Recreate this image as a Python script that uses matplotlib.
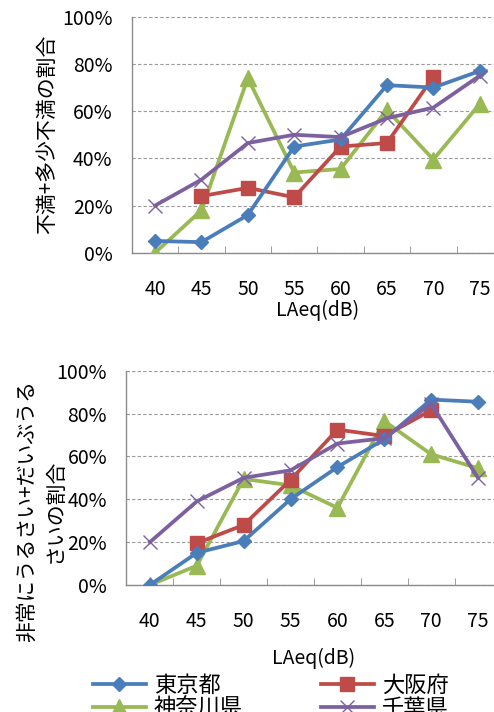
import matplotlib.pyplot as plt
from matplotlib.ticker import PercentFormatter

plt.rcParams['font.family'] = ['Noto Sans CJK JP', 'DejaVu Sans']

levels = ['40', '45', '50', '55', '60', '65', '70', '75']
regions = ['東京都', '大阪府', '神奈川県', '千葉県']

# top panel: 不満+多少不満の割合 (%)
top_tokyo = [5, 4.5, 16, 45, 48, 71, 70, 77]
top_osaka = [None, 24, 27.5, 23.5, 45, 46.5, 74.5, None]
top_kanagawa = [0, 18, 74, 34, 35.5, 60.5, 39.5, 63]
top_chiba = [20, 31, 46.5, 50, 49, 57, 61.5, 75]

# bottom panel: 非常にうるさい+だいぶうるさいの割合 (%)
bot_tokyo = [0, 15, 20.5, 40, 55, 68, 86.5, 85.5]
bot_osaka = [None, 19.5, 28, 49, 72.5, 69.5, 81.5, None]
bot_kanagawa = [0, 9, 49.5, 46.5, 36, 76.5, 61, 54.5]
bot_chiba = [20, 39, 50, 53.5, 66, 68.5, 84.5, 50]

styles = {
    '東京都': dict(color='#4A7EBB', marker='D', markersize=7, zorder=5),
    '大阪府': dict(color='#BE4B48', marker='s', markersize=10, zorder=4),
    '神奈川県': dict(color='#98B954', marker='^', markersize=11, zorder=3),
    '千葉県': dict(color='#7D60A0', marker='x', markersize=10, markeredgewidth=1.0, zorder=6),
}


def to_float(vals):
    return [float('nan') if v is None else v for v in vals]


def draw_panel(ax, series, ylabel, label_x, label_y, xlabel_pad):
    x = list(range(len(levels)))
    lines = {}
    for name, vals in zip(regions, series):
        st = styles[name]
        ln, = ax.plot(x, to_float(vals), linewidth=2.7, label=name, **st)
        lines[name] = ln
    ax.set_xlim(-0.5, len(levels) - 0.5)
    ax.set_ylim(0, 100)
    ax.set_yticks(range(0, 101, 20))
    ax.yaxis.set_major_formatter(PercentFormatter(decimals=0))
    ax.set_xticks(x)
    ax.set_xticklabels(levels)
    ax.set_xticks([i + 0.5 for i in x[:-1]], minor=True)
    ax.tick_params(axis='x', which='major', length=0, pad=19, labelsize=14)
    ax.tick_params(axis='x', which='minor', direction='in', length=5, color='#8C8C8C')
    ax.tick_params(axis='y', length=0, pad=14, labelsize=14)
    ax.grid(axis='y', linestyle=(0, (3, 2)), color='#9A9A9A', linewidth=0.8)
    for s in ['top', 'right']:
        ax.spines[s].set_visible(False)
    for s in ['left', 'bottom']:
        ax.spines[s].set_color('#8C8C8C')
        ax.spines[s].set_linewidth(1.0)
    ax.set_xlabel('LAeq(dB)', fontsize=14, labelpad=xlabel_pad)
    ax.text(label_x, label_y, ylabel, rotation=90, fontsize=15, ha='center', va='center',
            transform=ax.transAxes, linespacing=1.3, multialignment='center')
    return lines


fig = plt.figure(figsize=(4.94, 7.12), dpi=100)
ax1 = fig.add_axes([0.267, 0.645, 0.751, 0.3315])
ax2 = fig.add_axes([0.256, 0.1784, 0.759, 0.301])

draw_panel(ax1, [top_tokyo, top_osaka, top_kanagawa, top_chiba],
           '不満+多少不満の割合', -0.229, 0.5, 0)
lines = draw_panel(ax2, [bot_tokyo, bot_osaka, bot_kanagawa, bot_chiba],
                   '非常にうるさい+だいぶうる\nさいの割合', -0.228, 0.345, 11)

order = ['東京都', '神奈川県', '大阪府', '千葉県']
fig.legend([lines[n] for n in order], order, ncol=2, frameon=False, fontsize=16,
           loc='upper left', bbox_to_anchor=(0.165, 0.069), handlelength=2.4,
           handletextpad=0.35, columnspacing=3.5, labelspacing=0.0, borderpad=0)

fig.savefig('out.png', dpi=100)
